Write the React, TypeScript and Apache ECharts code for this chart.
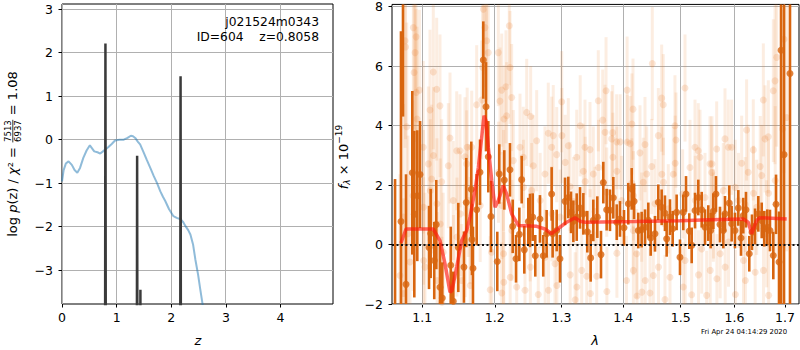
import React, { useEffect, useRef } from "react";
import * as echarts from "echarts";

// ---------- Left panel data ----------
const chi2Curve: number[][] = [
  [0, -0.96], [0.03, -0.7], [0.07, -0.55], [0.12, -0.5], [0.18, -0.58], [0.23, -0.7], [0.28, -0.76],
  [0.33, -0.65], [0.39, -0.42], [0.45, -0.25], [0.51, -0.13], [0.55, -0.2], [0.59, -0.27], [0.65, -0.29],
  [0.7, -0.32], [0.75, -0.27], [0.79, -0.23], [0.85, -0.17], [0.91, -0.1], [0.97, -0.02], [1.05, 0.0],
  [1.13, 0.0], [1.2, 0.04], [1.26, 0.09], [1.3, 0.08], [1.34, 0.04], [1.39, -0.05], [1.43, -0.11],
  [1.49, -0.28], [1.55, -0.46], [1.62, -0.66], [1.68, -0.84], [1.74, -1.0], [1.8, -1.19], [1.85, -1.32],
  [1.89, -1.41], [1.96, -1.6], [2.04, -1.76], [2.1, -1.8], [2.17, -1.83], [2.22, -1.9], [2.26, -1.99],
  [2.31, -2.08], [2.35, -2.18], [2.4, -2.42], [2.44, -2.75], [2.49, -3.1], [2.53, -3.44], [2.57, -3.76],
  [2.62, -4.2], [2.7, -5.0],
];
const logPz: number[][] = [
  [0, -20], [0.775, -20], [0.795, 2.21], [0.815, -20], [1.355, -20], [1.375, -0.37], [1.395, -20],
  [1.42, -20], [1.435, -3.45], [1.45, -20], [2.15, -20], [2.17, 1.46], [2.19, -20], [4.96, -20],
];
const zTicks = [0, 1, 2, 3, 4];
const logpTicks = [-3, -2, -1, 0, 1, 2, 3];
const objName = "j021524m0343";
const objInfo = "ID=604    z=0.8058";

// ---------- Right panel data ----------
const lamTicks = [1.1, 1.2, 1.3, 1.4, 1.5, 1.6, 1.7];
const fluxTicks = [-2, 0, 2, 4, 6, 8];
// binned spectrum [lambda, flux, err]
const binned: number[][] = [
  [1.0646, -2.3, 4.5], [1.0722, 0.77, 6.4], [1.0748, 8.4, 4.1], [1.0787, -1.34, 3.7], [1.0869, 2.41, 2.75],
  [1.0895, 1.02, 2.8], [1.0934, 1.64, 2.2], [1.097, 2.35, 1.8], [1.1089, -0.1, 1.4], [1.1111, 0.37, 1.5],
  [1.1159, -0.54, 1.3], [1.1186, 0.67, 1.5], [1.1236, -1.44, 1.5], [1.1267, -1.8, 1.2], [1.1382, -0.7, 1.3],
  [1.1417, -1.91, 1.0], [1.1486, -0.1, 1.5], [1.1564, -0.76, 1.2], [1.1596, 1.41, 1.5], [1.1666, 1.86, 1.6],
  [1.1676, 0.17, 1.2], [1.169, -0.8, 1.4], [1.1742, 1.17, 1.2], [1.1789, 2.43, 1.1], [1.1836, 6.2, 1.3],
  [1.1874, 4.63, 1.5], [1.1907, 2.95, 1.2], [1.1945, 0.94, 1.2], [1.2036, -0.57, 1.0], [1.2065, 2.37, 1.0],
  [1.2138, 2.17, 1.0], [1.2221, 2.51, 0.9], [1.2261, 0.61, 0.9], [1.231, -0.48, 0.8], [1.2359, 0.34, 0.9],
  [1.2394, 2.18, 0.8], [1.2433, -0.18, 0.8], [1.2493, 0.77, 0.8], [1.2518, 0.81, 0.9], [1.2559, 0.92, 0.8],
  [1.2598, -0.38, 0.7], [1.2669, 0.86, 0.8], [1.2719, -0.38, 0.7], [1.2771, 0.36, 0.8], [1.2848, 1.7, 0.9],
  [1.2863, 0.36, 0.8], [1.2926, 0.47, 0.7], [1.2977, -0.48, 0.8], [1.3056, 1.45, 0.8], [1.3107, 1.58, 0.7],
  [1.315, 1.08, 0.7], [1.3187, 0.78, 0.7], [1.324, 0.92, 0.8], [1.3293, 1.23, 0.7], [1.3346, 1.03, 0.7],
  [1.341, 0.43, 0.7], [1.3464, -0.45, 0.8], [1.3507, 0.81, 0.7], [1.3572, 0.92, 0.7], [1.3632, -0.34, 0.8],
  [1.367, 2.08, 0.7], [1.3725, 1.17, 0.7], [1.378, 1.15, 0.7], [1.3835, 1.57, 0.7], [1.3892, 0.75, 0.6],
  [1.3946, 0.86, 0.6], [1.4014, 0.56, 0.6], [1.4086, 1.37, 0.7], [1.4144, 1.87, 0.7], [1.4185, 1.45, 0.6],
  [1.4256, 0.47, 0.6], [1.4314, 0.5, 0.6], [1.4372, 0.58, 0.6], [1.4429, 0.81, 0.6], [1.447, 0.22, 0.6],
  [1.4545, 0.36, 0.6], [1.4603, 1.42, 0.6], [1.4662, 1.25, 0.6], [1.472, 1.05, 0.6], [1.475, 0.19, 0.6],
  [1.4809, 0.92, 0.6], [1.4857, 0.53, 0.6], [1.4928, 1.08, 0.6], [1.4988, -0.43, 0.6], [1.5048, 1.08, 0.6],
  [1.5097, 1.7, 0.6], [1.5156, 0.45, 0.6], [1.52, -0.03, 0.6], [1.5261, 1.14, 0.6], [1.5321, 1.58, 0.6],
  [1.5384, 1.17, 0.6], [1.5445, 0.58, 0.6], [1.5506, 0.72, 0.6], [1.5551, 0.47, 0.6], [1.56, 1.12, 0.6],
  [1.565, 1.7, 0.6], [1.5725, 0.67, 0.6], [1.5788, 0.47, 0.6], [1.582, 1.03, 0.6], [1.5902, 1.39, 0.6],
  [1.5947, 0.7, 0.6], [1.6011, 0.47, 0.6], [1.6075, 1.23, 0.6], [1.6127, 0.22, 0.6], [1.6171, 0.97, 0.6],
  [1.6224, 1.17, 0.6], [1.6288, -0.31, 0.6], [1.6341, 0.41, 0.6], [1.64, 0.61, 0.6], [1.6466, 1.03, 0.6],
  [1.6533, 0.81, 0.6], [1.6585, 0.53, 0.6], [1.6644, 0.58, 0.6], [1.6698, 0.47, 0.7], [1.6765, -0.37, 0.8],
  [1.682, 1.35, 1.0], [1.688, -0.59, 1.7], [1.6921, 6.53, 9], [1.6982, 3.02, 8], [1.7104, 5.75, 10],
];
// individual exposures [lambda, flux, err]
const exposures: number[][] = [
  [1.0709, -1.04, 3.4], [1.0752, 0.92, 3.8], [1.0755, -1.65, 3.2], [1.0774, 6.85, 3.6], [1.0781, 6.64, 3.1],
  [1.0796, 3.96, 3.5], [1.0813, 0.36, 3.3], [1.0839, -0.59, 3.0], [1.0878, 1.64, 3.2], [1.0882, 7.29, 3.4],
  [1.0892, 5.78, 2.9], [1.0905, 6.45, 3.0], [1.0918, 6.98, 3.3], [1.092, 5.11, 2.8], [1.0931, 4.22, 3.1],
  [1.0962, 5.19, 2.7], [1.1013, 3.27, 2.9], [1.1016, 1.25, 2.6], [1.1018, -0.54, 2.8], [1.1036, -0.76, 2.5],
  [1.108, 2.71, 2.6], [1.1102, 4.52, 2.7], [1.1106, 1.81, 2.4], [1.1124, 2.2, 2.5], [1.1146, 5.8, 2.6],
  [1.1149, 2.99, 2.3], [1.1191, 5.22, 2.4], [1.1195, 1.37, 2.2], [1.1198, -1.21, 2.3], [1.1236, 4.66, 2.4],
  [1.124, 0.69, 2.2], [1.1259, 2.11, 2.1], [1.1262, -1.94, 2.2], [1.128, -0.26, 2.0], [1.1349, 2.65, 2.1],
  [1.1372, 3.58, 2.2], [1.1417, 1.48, 2.0], [1.142, -1.11, 2.1], [1.1464, 3.15, 2.0], [1.1467, 0.25, 2.0],
  [1.1509, 3.15, 1.9], [1.1513, 1.03, 2.1], [1.1532, -1.21, 1.9], [1.1578, 2.95, 2.0], [1.1581, 0.13, 1.9],
  [1.1602, 2.71, 1.8], [1.1609, 3.27, 2.0], [1.1625, 1.48, 1.9], [1.1649, 0.47, 1.8], [1.1652, -1.38, 1.9],
  [1.1672, 3.27, 1.9], [1.1742, 4.7, 2.0], [1.1792, 1.31, 1.9], [1.1813, 4.86, 2.0], [1.1827, 5.95, 2.1],
  [1.1836, 7.91, 2.2], [1.186, 7.29, 2.0], [1.1874, 8.1, 2.1], [1.1884, 6.85, 2.0], [1.1907, 6.45, 1.9],
  [1.1934, -1.52, 1.8], [1.1955, -0.26, 1.9], [1.2051, 6.45, 1.8], [1.2054, 2.43, 1.7], [1.2075, 4.82, 1.8],
  [1.21, 5.19, 1.9], [1.2101, -1.63, 1.7], [1.2103, 1.31, 1.8], [1.2126, 2.15, 1.7], [1.2127, -0.31, 1.8],
  [1.213, -1.27, 1.7], [1.2133, 4.22, 1.8], [1.2162, 5.3, 1.9], [1.2172, 4.33, 1.8], [1.2211, 7.35, 2.0],
  [1.2221, 5.95, 1.9], [1.2224, -1.1, 1.7], [1.2246, 4.94, 1.8], [1.2249, 0.47, 1.7], [1.227, 2.82, 1.7],
  [1.232, -1.43, 1.6], [1.2369, 3.27, 1.8], [1.2418, 2.93, 1.7], [1.2421, 1.92, 1.6], [1.2443, -1.54, 1.7],
  [1.2469, 4.44, 1.8], [1.2521, 0.36, 1.6], [1.2524, -0.76, 1.6], [1.2528, 4.3, 1.7], [1.2543, 1.81, 1.6],
  [1.2568, 2.65, 1.7], [1.2619, 3.49, 1.7], [1.2643, -1.68, 1.6], [1.2672, 1.48, 1.6], [1.2745, 2.37, 1.6],
  [1.2748, -0.43, 1.6], [1.2796, 3.74, 1.7], [1.2799, -1.54, 1.6], [1.2848, 3.27, 1.7], [1.2851, 1.03, 1.6],
  [1.2873, 3.66, 1.7], [1.29, -0.65, 1.6], [1.2926, 3.02, 1.6], [1.2929, -1.38, 1.5], [1.298, 0.92, 1.6],
  [1.3004, 4.8, 1.7], [1.3007, 3.66, 1.6], [1.3059, 2.76, 1.6], [1.3107, 3.32, 1.6], [1.3134, 1.95, 1.5],
  [1.3137, -1.02, 1.6], [1.319, 1.44, 1.5], [1.3216, -1.86, 1.6], [1.324, 2.93, 1.6], [1.3243, -1.43, 1.5],
  [1.3296, 3.99, 1.7], [1.332, -0.87, 1.5], [1.3346, 2.46, 1.6], [1.3373, 3.27, 1.6], [1.3376, 2.12, 1.5],
  [1.34, -1.07, 1.5], [1.3453, 3.19, 1.6], [1.3456, 0.36, 1.5], [1.3459, -1.65, 1.5], [1.3507, 2.37, 1.6],
  [1.3535, 1.11, 1.5], [1.3562, -1.07, 1.5], [1.3588, 4.83, 1.7], [1.3591, 2.59, 1.6], [1.366, 4.18, 1.7],
  [1.3698, 3.77, 1.6], [1.3715, 5.17, 1.8], [1.3726, 1.76, 1.5], [1.3729, -1.58, 1.5], [1.3808, 3.55, 1.6],
  [1.3824, 3.76, 1.6], [1.3828, 2.93, 1.5], [1.3891, 3.45, 1.6], [1.3894, 2.46, 1.5], [1.3895, -0.29, 1.5],
  [1.3949, 3.45, 1.6], [1.3974, 1.48, 1.5], [1.4056, -1.21, 1.5], [1.4066, 5.19, 1.8], [1.4069, 3.44, 1.6],
  [1.4118, 3.39, 1.6], [1.4145, 2.07, 1.5], [1.4147, 4.05, 1.7], [1.4166, 4.55, 1.7], [1.417, 0.47, 1.5],
  [1.4173, -0.87, 1.5], [1.4175, 1.64, 1.5], [1.4228, -0.31, 1.5], [1.4234, -1.73, 1.5], [1.4285, 3.08, 1.6],
  [1.4314, 0.92, 1.5], [1.4318, -1.6, 1.5], [1.4342, 2.09, 1.5], [1.4372, 3.36, 1.6], [1.4375, -1.21, 1.5],
  [1.4401, 2.37, 1.6], [1.4458, -1.63, 1.5], [1.4488, 2.62, 1.6], [1.4498, 6.08, 1.9], [1.4516, -1.04, 1.5],
  [1.4545, 1.37, 1.5], [1.4603, 3.66, 1.6], [1.4606, -0.76, 1.5], [1.4662, 4.92, 1.8], [1.4665, 2.36, 1.6],
  [1.469, 4.7, 1.7], [1.4694, 2.09, 1.5], [1.472, -1.85, 1.5], [1.4779, 1.2, 1.5], [1.4809, -1.1, 1.5],
  [1.4868, 2.36, 1.6], [1.4898, 3.99, 1.7], [1.4902, 2.73, 1.6], [1.4916, 3.51, 1.6], [1.5036, 1.7, 1.5],
  [1.5048, -1.43, 1.5], [1.5078, 5.26, 1.8], [1.5081, -0.54, 1.5], [1.5169, 2.59, 1.6], [1.52, -1.69, 1.5],
  [1.5261, 3.27, 1.6], [1.5265, 1.48, 1.5], [1.5321, 3.15, 1.6], [1.5325, -1.02, 1.5], [1.5352, 2.93, 1.6],
  [1.5384, -0.15, 1.5], [1.5445, 1.58, 1.5], [1.5476, -1.71, 1.5], [1.5538, 2.71, 1.6], [1.5542, -0.87, 1.5],
  [1.557, 2.42, 1.6], [1.5574, 2.71, 1.6], [1.56, 0.92, 1.5], [1.5604, 1.03, 1.5], [1.5663, 3.21, 1.6],
  [1.5667, -1.15, 1.5], [1.5729, -0.31, 1.5], [1.5788, 1.81, 1.6], [1.582, 3.55, 1.7], [1.5824, -0.76, 1.5],
  [1.5883, 3.27, 1.6], [1.5887, 0.08, 1.5], [1.5947, 3.27, 1.6], [1.6015, 1.92, 1.6], [1.6019, -1.68, 1.5],
  [1.6079, 1.48, 1.6], [1.614, 2.73, 1.6], [1.6175, -0.54, 1.5], [1.6208, 1.34, 1.6], [1.6212, -1.21, 1.5],
  [1.6236, 3.85, 1.7], [1.6268, 2.43, 1.6], [1.6367, 3.18, 1.7], [1.6371, 1.72, 1.6], [1.6404, -0.93, 1.6],
  [1.6433, 1.25, 1.6], [1.6503, 2.62, 1.7], [1.6533, 2.32, 1.7], [1.6565, 4.86, 1.9], [1.6569, -0.87, 1.7],
  [1.6598, 3.55, 1.8], [1.6632, 0.36, 1.8], [1.6665, 3.62, 1.9], [1.6669, 1.72, 1.8], [1.6671, -1.71, 1.8],
  [1.6765, 5.17, 2.4], [1.6799, 5.5, 2.8], [1.6803, 2.15, 2.5], [1.6833, 6.29, 3.0], [1.6955, 3.88, 4.0],
  [1.6982, 6.9, 4.5], [1.7036, 4.27, 4.5],
];
// best-fit model [lambda, flux]
const model: number[][] = [
  [1.0722, 0.05], [1.0787, 0.52], [1.1146, 0.52], [1.1236, 0.13], [1.1304, -0.65], [1.1372, -1.6],
  [1.1399, -1.55], [1.1464, -0.76], [1.1532, 0.13], [1.1602, 0.47], [1.1648, 0.92], [1.1718, 1.81],
  [1.1765, 2.59], [1.1813, 3.6], [1.1846, 4.33], [1.1874, 4.16], [1.1907, 3.27], [1.1956, 2.15],
  [1.2003, 1.25], [1.2051, 1.48], [1.2123, 1.98], [1.2172, 1.7], [1.2246, 1.03], [1.2344, 0.64],
  [1.2619, 0.61], [1.2745, 0.52], [1.2848, 0.36], [1.2873, 0.41], [1.2977, 0.58], [1.3082, 0.75],
  [1.3213, 0.9], [1.3293, 0.78], [1.3373, 0.75], [1.42, 0.77], [1.4988, 0.8], [1.5538, 0.83],
  [1.6171, 0.86], [1.6268, 0.75], [1.6334, 0.36], [1.6433, 0.81], [1.6499, 0.9], [1.7036, 0.86],
];
const lamRange = [1.0607, 1.729];
const stamp = "Fri Apr 24 04:14:29 2020";

const FONT = '"DejaVu Sans", sans-serif';
const DARK = "#d8650f";
const GRIDC = "#b0b0b0";

function measure(text: string, size: number, italic = false): number {
  const ctx = document.createElement("canvas").getContext("2d")!;
  ctx.font = `${italic ? "italic " : ""}${size}px "DejaVu Sans"`;
  return ctx.measureText(text).width;
}

function buildRotatedLabel(pieces: { t: string; size: number; italic?: boolean; dy?: number; frac?: [string, string] }[], cx: number, cy: number) {
  const children: any[] = [];
  let pos = 0;
  for (const p of pieces) {
    if (p.frac) {
      const w = Math.max(measure(p.frac[0], p.size), measure(p.frac[1], p.size)) + 2;
      children.push({ type: "text", x: pos + w / 2, y: -4.5, style: { text: p.frac[0], fontSize: p.size, fontFamily: FONT, fill: "#000", align: "center", verticalAlign: "middle" } });
      children.push({ type: "text", x: pos + w / 2, y: 5, style: { text: p.frac[1], fontSize: p.size, fontFamily: FONT, fill: "#000", align: "center", verticalAlign: "middle" } });
      children.push({ type: "line", shape: { x1: pos + 0.5, y1: 0.3, x2: pos + w - 0.5, y2: 0.3 }, style: { stroke: "#000", lineWidth: 0.8 } });
      pos += w;
    } else {
      children.push({ type: "text", x: pos, y: p.dy || 0, style: { text: p.t, fontSize: p.size, fontStyle: p.italic ? "italic" : "normal", fontFamily: FONT, fill: "#000", align: "left", verticalAlign: "middle" } });
      pos += measure(p.t, p.size, p.italic);
    }
  }
  return { type: "group", x: cx, y: cy + pos / 2, rotation: Math.PI / 2, children };
}

const minus = (v: number) => String(v).replace("-", "\u2212");

export default function App() {
  const ref = useRef<HTMLDivElement>(null);
  useEffect(() => {
    const chart = echarts.init(ref.current!, undefined, { renderer: "svg" });
    const lnMin = Math.log(lamRange[0]);
    const lnMax = Math.log(lamRange[1]);
    const toLn = (arr: number[][]) => arr.map((d) => [Math.log(d[0]), ...d.slice(1)]);
    const lamTicksLn = lamTicks.map(Math.log);

    const errRender = (color: string, width: number) => (params: any, api: any) => {
      const x = api.value(0), y = api.value(1), e = api.value(2);
      const cs = params.coordSys;
      const p1 = api.coord([x, y - e]);
      const p2 = api.coord([x, y + e]);
      const clampY = (v: number) => Math.max(cs.y, Math.min(cs.y + cs.height, v));
      const y1 = clampY(p1[1]), y2 = clampY(p2[1]);
      if (y1 === y2) return null;
      return { type: "line", shape: { x1: p1[0], y1, x2: p2[0], y2 }, style: { stroke: color, lineWidth: width } };
    };

    // grid lines: one rect per line, placed through the axis scales
    const gridRender = (params: any, api: any) => {
      const cs = params.coordSys;
      const p = api.coord([api.value(0), api.value(1)]);
      if (api.value(2) === 0) {
        return { type: "rect", shape: { x: Math.floor(p[0]), y: cs.y, width: 1, height: cs.height }, style: { fill: GRIDC } };
      }
      return { type: "rect", shape: { x: cs.x, y: Math.floor(p[1]), width: cs.width, height: 1 }, style: { fill: GRIDC } };
    };
    const gridSeries = (gi: number, xs: number[], ys: number[], xRef: number, yRef: number) => ({
      type: "custom", xAxisIndex: gi, yAxisIndex: gi, silent: true, z: 1,
      data: [...xs.map((v) => [v, yRef, 0]), ...ys.map((v) => [xRef, v, 1])],
      encode: { x: 0, y: 1 },
      renderItem: gridRender,
    });

    const axisBase = {
      axisLine: { show: false, onZero: false },
      splitLine: { show: false },
    };

    const yLabelLeft = buildRotatedLabel(
      [
        { t: "log ", size: 13 },
        { t: "p", size: 13, italic: true },
        { t: "(z) / ", size: 13 },
        { t: "χ", size: 13, italic: true },
        { t: "²", size: 13 },
        { t: " = ", size: 13 },
        { t: "", size: 8.5, frac: ["7513", "6937"] },
        { t: " = 1.08", size: 13 },
      ],
      12.5,
      154
    );
    const yLabelRight = buildRotatedLabel(
      [
        { t: "f", size: 13, italic: true },
        { t: "λ", size: 9, italic: true, dy: 3.5 },
        { t: " × 10", size: 13 },
        { t: "\u221219", size: 9, dy: -5 },
      ],
      343.5,
      157
    );

    chart.setOption({
      animation: false,
      textStyle: { fontFamily: FONT },
      grid: [
        { left: 62, top: 4, width: 271, height: 300, show: true, borderColor: "#000", borderWidth: 1, backgroundColor: "transparent", z: 0 },
        { left: 392, top: 4, width: 407, height: 300, show: true, borderColor: "#000", borderWidth: 1, backgroundColor: "transparent", z: 0 },
      ],
      xAxis: [
        {
          type: "value", gridIndex: 0, min: 0, max: 4.96, ...axisBase,
          axisTick: { show: true, length: 3.5, inside: false, lineStyle: { color: "#000" }, customValues: zTicks },
          axisLabel: { customValues: zTicks, color: "#000", fontSize: 12.5, margin: 7, fontFamily: FONT },
        },
        {
          type: "value", gridIndex: 1, min: lnMin, max: lnMax, ...axisBase,
          axisTick: { show: true, length: 3.5, lineStyle: { color: "#000" }, customValues: lamTicksLn },
          axisLabel: {
            customValues: lamTicksLn, color: "#000", fontSize: 12.5, margin: 7, fontFamily: FONT,
            formatter: (v: number) => Math.exp(v).toFixed(1),
          },
        },
      ],
      yAxis: [
        {
          type: "value", gridIndex: 0, min: -3.78, max: 3.12, ...axisBase,
          axisTick: { show: true, length: 3.5, lineStyle: { color: "#000" }, customValues: logpTicks },
          axisLabel: { customValues: logpTicks, color: "#000", fontSize: 12.5, margin: 9, fontFamily: FONT, formatter: (v: number) => minus(v) },
        },
        {
          type: "value", gridIndex: 1, min: -2, max: 8.07, ...axisBase,
          axisTick: { show: true, length: 3.5, lineStyle: { color: "#000" }, customValues: fluxTicks },
          axisLabel: { customValues: fluxTicks, color: "#000", fontSize: 12.5, margin: 9, fontFamily: FONT, formatter: (v: number) => minus(v) },
        },
      ],
      series: [
        gridSeries(0, zTicks, logpTicks, 1, 0),
        gridSeries(1, lamTicksLn, fluxTicks, Math.log(1.3), 0),
        {
          type: "line", xAxisIndex: 0, yAxisIndex: 0, data: chi2Curve, showSymbol: false, clip: true,
          lineStyle: { color: "rgba(31,119,180,0.5)", width: 2 }, z: 2,
        },
        {
          type: "line", xAxisIndex: 0, yAxisIndex: 0, data: logPz, showSymbol: false, clip: true,
          lineStyle: { color: "#3a3a3a", width: 2.5 }, z: 3,
        },
        {
          type: "custom", xAxisIndex: 1, yAxisIndex: 1, data: toLn(exposures),
          encode: { x: 0, y: 1 }, renderItem: errRender("rgba(232,125,45,0.14)", 3), z: 2,
        },
        {
          type: "scatter", xAxisIndex: 1, yAxisIndex: 1, data: toLn(exposures).map((d) => [d[0], d[1]]),
          symbolSize: 7, itemStyle: { color: "rgba(232,125,45,0.24)" }, clip: true, z: 2,
        },
        {
          type: "custom", xAxisIndex: 1, yAxisIndex: 1, data: toLn(binned),
          encode: { x: 0, y: 1 }, renderItem: errRender(DARK, 2.6), z: 4,
        },
        {
          type: "scatter", xAxisIndex: 1, yAxisIndex: 1, data: toLn(binned).map((d) => [d[0], d[1]]),
          symbolSize: 7, itemStyle: { color: DARK }, clip: true, z: 4,
        },
        {
          type: "line", xAxisIndex: 1, yAxisIndex: 1, data: toLn(model), showSymbol: false, clip: true,
          lineStyle: { color: "rgba(255,25,15,0.65)", width: 3.5 }, z: 5,
          markLine: {
            silent: true, symbol: "none", label: { show: false },
            lineStyle: { type: [2, 2.5], color: "#111", width: 2 },
            data: [{ yAxis: 0 }],
          },
        },
      ],
      graphic: [
        { type: "text", x: 319, y: 22, z: 100, style: { text: objName, fontSize: 12.3, fontFamily: FONT, fill: "#000", align: "right", verticalAlign: "middle" } },
        { type: "text", x: 319, y: 37, z: 100, style: { text: objInfo, fontSize: 12.3, fontFamily: FONT, fill: "#000", align: "right", verticalAlign: "middle" } },
        { type: "text", x: 198, y: 340, style: { text: "z", fontSize: 13, fontStyle: "italic", fontFamily: FONT, fill: "#000", align: "center", verticalAlign: "middle" } },
        { type: "text", x: 595, y: 340, style: { text: "λ", fontSize: 13, fontStyle: "italic", fontFamily: FONT, fill: "#000", align: "center", verticalAlign: "middle" } },
        { type: "text", x: 701, y: 332, style: { text: stamp, fontSize: 6.9, fontFamily: FONT, fill: "#000", align: "left", verticalAlign: "middle" } },
        yLabelLeft,
        yLabelRight,
      ],
    });

    return () => chart.dispose();
  }, []);
  return <div ref={ref} style={{ position: "fixed", left: 0, top: 0, width: 800, height: 350, background: "#fff" }} />;
}
